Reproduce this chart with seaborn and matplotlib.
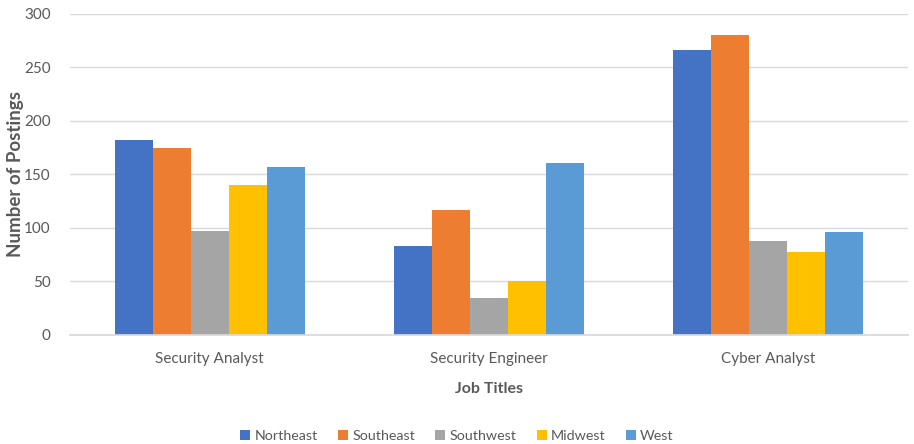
import matplotlib
matplotlib.use("Agg")
import matplotlib.pyplot as plt
from matplotlib.patches import Patch
import pandas as pd
import seaborn as sns

# Job posting counts by region
job_titles = ["Security Analyst", "Security Engineer", "Cyber Analyst"]
regions = ["Northeast", "Southeast", "Southwest", "Midwest", "West"]
northeast = [182, 83, 266]
southeast = [175, 117, 280]
southwest = [97, 35, 88]
midwest = [140, 50, 78]
west = [157, 161, 96]

colors = ["#4472C4", "#ED7D31", "#A5A5A5", "#FFC000", "#5B9BD5"]

rows = []
for region, vals in zip(regions, [northeast, southeast, southwest, midwest, west]):
    for title, v in zip(job_titles, vals):
        rows.append({"Job Titles": title, "Region": region, "Postings": v})
df = pd.DataFrame(rows)

sns.set_theme(style="white")
plt.rcParams["font.family"] = ["Lato", "DejaVu Sans"]
text_color = "#595959"

fig = plt.figure(figsize=(9.14, 4.44), dpi=100)
ax = fig.add_axes([0.0766, 0.2455, 0.9168, 0.723])

sns.barplot(data=df, x="Job Titles", y="Postings", hue="Region",
            order=job_titles, hue_order=regions, palette=colors,
            width=0.68, saturation=1, linewidth=0, ax=ax, legend=False,
            errorbar=None)

ax.set_ylim(0, 300)
ax.set_yticks(range(0, 301, 50))
ax.set_xlim(-0.5, 2.5)
ax.yaxis.grid(True, color="#D9D9D9", linewidth=1)
ax.set_axisbelow(True)
for side in ["top", "right", "left"]:
    ax.spines[side].set_visible(False)
ax.spines["bottom"].set_color("#D9D9D9")
ax.tick_params(axis="both", length=0, labelsize=11, colors=text_color)
ax.tick_params(axis="x", pad=12)
ax.tick_params(axis="y", pad=14)

ax.set_xlabel("Job Titles", fontsize=11.5, fontweight="bold", color=text_color, labelpad=12)
ax.set_ylabel("Number of Postings", fontsize=13.5, fontweight="bold", color=text_color, labelpad=0)

handles = [Patch(facecolor=c, edgecolor="none") for c in colors]
fig.legend(handles, regions, loc="lower center", bbox_to_anchor=(0.5, -0.025),
           ncol=5, frameon=False, fontsize=10.3, labelcolor=text_color,
           handlelength=0.7, handleheight=0.7, handletextpad=0.3, columnspacing=1.4)

fig.savefig("out.png", dpi=100)
